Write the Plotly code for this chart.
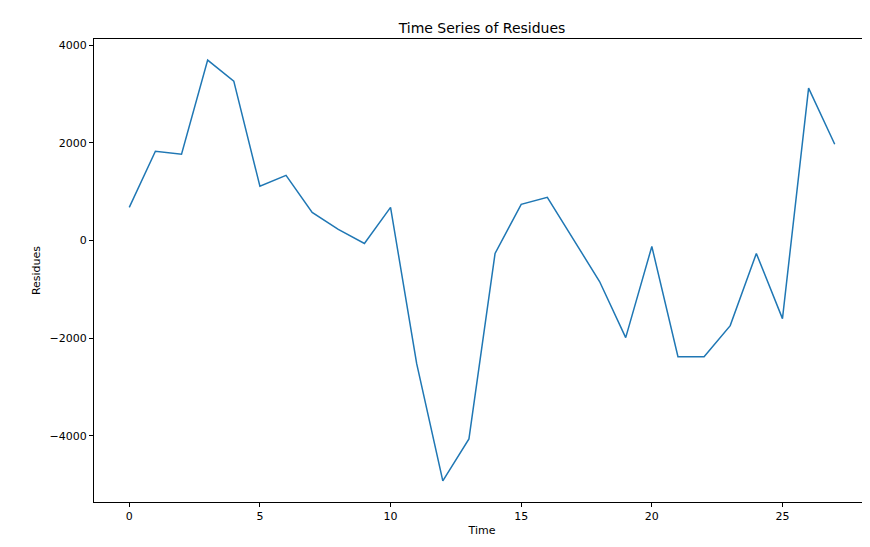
import plotly.graph_objects as go

time = list(range(28))
residues = [677, 1826, 1764, 3692, 3262, 1108, 1333, 574, 226, -62,
            677, -2523, -4923, -4062, -267, 738, 882, 20, -841, -1990,
            -123, -2380, -2380, -1744, -267, -1600, 3118, 1969]

fig = go.Figure()
fig.add_trace(go.Scatter(x=time, y=residues, mode="lines",
                         line=dict(color="#1f77b4", width=1.5)))

axis_style = dict(showgrid=False, zeroline=False, showline=True, linecolor="black",
                  linewidth=1, mirror=True, ticks="outside", ticklen=4,
                  tickcolor="black", tickfont=dict(size=11, color="black"),
                  automargin=False)

fig.update_layout(
    width=870, height=547,
    title=dict(text="Time Series of Residues", x=0.5, xanchor="center",
               xref="paper", yref="paper", y=1, yanchor="bottom",
               pad=dict(b=6), font=dict(size=14, color="black")),
    font=dict(family="DejaVu Sans"),
    plot_bgcolor="white", paper_bgcolor="white",
    margin=dict(l=86, r=8, t=31, b=53),
    showlegend=False,
    xaxis=dict(range=[-1.35, 28.35], tickvals=[0, 5, 10, 15, 20, 25],
               title=dict(text="Time", font=dict(size=11, color="black"), standoff=4),
               **axis_style),
    yaxis=dict(range=[-5354, 4123], tickvals=[-4000, -2000, 0, 2000, 4000],
               ticktext=["\u22124000", "\u22122000", "0", "2000", "4000"],
               title=dict(text="Residues", font=dict(size=11, color="black"), standoff=6),
               **axis_style),
)

fig.write_html("out.html")
